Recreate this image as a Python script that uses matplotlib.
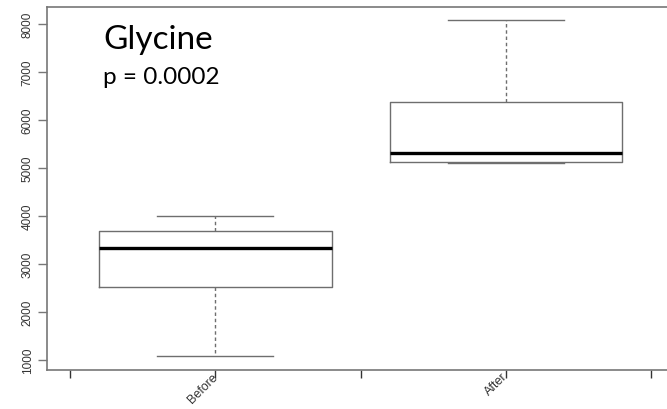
import matplotlib
matplotlib.use("Agg")
import matplotlib.pyplot as plt

# values
groups = ['Before', 'After']
whis_lo = [1075, 5110]
q1 = [2515, 5130]
med = [3325, 5310]
q3 = [3685, 6360]
whis_hi = [4000, 8070]

tick_pos = [0.5, 1, 1.5, 2, 2.5]
tick_lab = ['', 'Before', '', 'After', '']
yticks = [1000, 2000, 3000, 4000, 5000, 6000, 7000, 8000]

W, H = 667, 410
fig = plt.figure(figsize=(W / 100, H / 100), dpi=100)
# right edge of the frame is cut off in the original
ax = fig.add_axes([47 / W, 38.7 / H, 633 / W, 363.3 / H])

stats = []
for i in range(len(groups)):
    stats.append({'label': groups[i], 'whislo': whis_lo[i], 'q1': q1[i],
                  'med': med[i], 'q3': q3[i], 'whishi': whis_hi[i], 'fliers': []})

ax.bxp(stats, positions=[1, 2], widths=0.8, showfliers=False,
       boxprops=dict(color='#6e6e6e', linewidth=1.0),
       medianprops=dict(color='black', linewidth=2.4),
       whiskerprops=dict(color='#6e6e6e', linewidth=1.0, dashes=(2.5, 2)),
       capprops=dict(color='#6e6e6e', linewidth=1.0),
       capwidths=0.4)

ax.set_xlim(0.42, 2.6)
ax.set_ylim(785, 8347)

for s in ax.spines.values():
    s.set_color('#777777')
    s.set_linewidth(1.2)

ax.set_xticks(tick_pos)
ax.set_xticklabels(tick_lab, rotation=45, ha='right', va='center',
                   rotation_mode='anchor', fontsize=9, color='#333333',
                   family='Liberation Sans')
ax.tick_params(axis='x', length=6, width=1, color='#333333', pad=-3)

ax.set_yticks(yticks)
ax.set_yticklabels([str(v) for v in yticks], rotation=90, va='center',
                   fontsize=8.5, color='#333333', family='Liberation Sans')
ax.tick_params(axis='y', length=6.5, width=1, color='#777777', pad=3)

fig.text(103 / W, 1 - 49 / H, 'Glycine', fontsize=24, family='Lato', va='baseline')
fig.text(103 / W, 1 - 84 / H, 'p = 0.0002', fontsize=17.5, family='Lato', va='baseline')

fig.savefig('out.png', dpi=100)
